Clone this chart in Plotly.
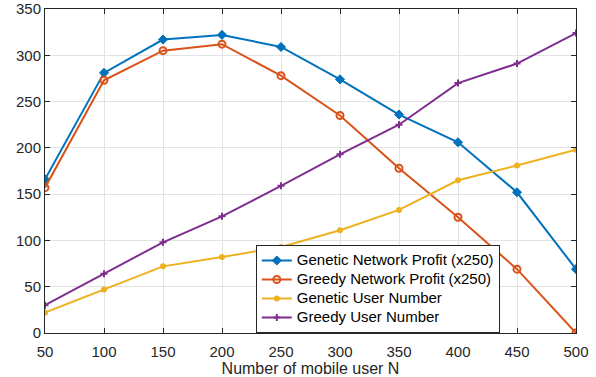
import plotly.graph_objects as go

users = [50, 100, 150, 200, 250, 300, 350, 400, 450, 500]
genetic_profit = [166, 281, 317, 322, 309, 274, 236, 206, 152, 69]
greedy_profit = [157, 273, 305, 312, 278, 235, 178, 125, 69, 0]
genetic_users = [22, 47, 72, 82, 93, 111, 133, 165, 181, 198]
greedy_users = [30, 64, 98, 126, 159, 193, 225, 270, 291, 324]
series_names = ["Genetic Network Profit (x250)", "Greedy Network Profit (x250)",
                "Genetic User Number", "Greedy User Number"]

x_ticks = [50, 100, 150, 200, 250, 300, 350, 400, 450, 500]
y_ticks = [0, 50, 100, 150, 200, 250, 300, 350]

FONT = "Liberation Sans, Arial, Helvetica"


def lg(s):
    return '<span style="font-size:15px">' + s + '</span>'


fig = go.Figure()
fig.add_trace(go.Scatter(x=users, y=genetic_profit, mode="lines+markers",
                         name=lg(series_names[0]),
                         line=dict(color="#0072BD", width=2),
                         marker=dict(symbol="diamond", size=7, color="#0072BD",
                                     line=dict(color="#0072BD", width=1))))
fig.add_trace(go.Scatter(x=users, y=greedy_profit, mode="lines+markers",
                         name=lg(series_names[1]),
                         line=dict(color="#D95319", width=2),
                         marker=dict(symbol="circle-open", size=7, color="#D95319",
                                     line=dict(color="#D95319", width=2))))
fig.add_trace(go.Scatter(x=users, y=genetic_users, mode="lines+markers",
                         name=lg(series_names[2]),
                         line=dict(color="#EDB120", width=2),
                         marker=dict(symbol="circle", size=6, color="#EDB120")))
fig.add_trace(go.Scatter(x=users, y=greedy_users, mode="lines+markers",
                         name=lg(series_names[3]),
                         line=dict(color="#7E2F8E", width=2),
                         marker=dict(symbol="cross-thin", size=5, color="#7E2F8E",
                                     line=dict(color="#7E2F8E", width=2))))

axis_common = dict(showline=True, linecolor="#262626", linewidth=1, mirror="ticks",
                   ticks="inside", ticklen=5, tickcolor="#262626",
                   showgrid=True, gridcolor="#E3E3E3", gridwidth=1, zeroline=False,
                   automargin=False,
                   tickfont=dict(family=FONT, size=15, color="#262626"))

fig.update_xaxes(range=[50, 500], tickvals=x_ticks, ticklabelstandoff=5,
                 title=dict(text="Number of mobile user N", standoff=3,
                            font=dict(family=FONT, size=16, color="#262626")),
                 **axis_common)
fig.update_yaxes(range=[0, 350], tickvals=y_ticks, **axis_common)

fig.update_layout(
    width=596, height=377,
    margin=dict(l=45, r=20, t=9, b=44),
    plot_bgcolor="white", paper_bgcolor="white",
    font=dict(family=FONT, size=15, color="#262626"),
    legend=dict(x=0.397, y=0, xanchor="left", yanchor="bottom",
                bgcolor="white", bordercolor="#262626", borderwidth=1,
                font=dict(family=FONT, size=11.5, color="#000000"),
                tracegroupgap=0, itemwidth=30),
    showlegend=True,
)

fig.write_html("out.html")
